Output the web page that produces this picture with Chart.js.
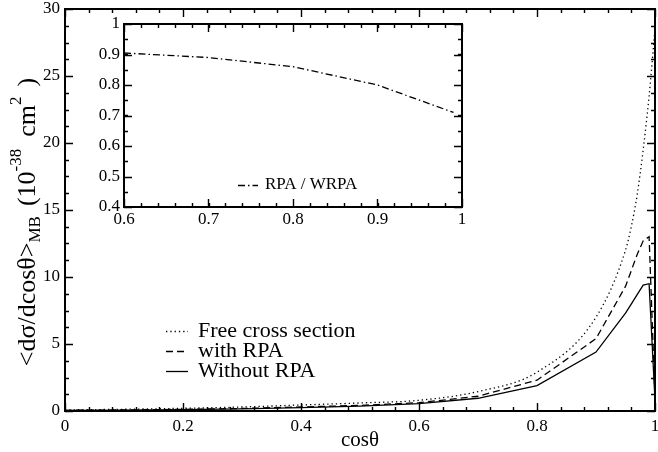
<!DOCTYPE html>
<html>
<head>
<meta charset="utf-8">
<script src="https://cdn.jsdelivr.net/npm/chart.js@4.4.1/dist/chart.umd.min.js"></script>
<style>
  html, body { margin: 0; padding: 0; background: #fff; }
  #wrap { position: relative; width: 658px; height: 452px; }
  #main { position: absolute; left: 0; top: 0; }
  #inset { position: absolute; left: 84px; top: 14px; }
</style>
</head>
<body>
<div id="wrap">
  <canvas id="main" width="658" height="452"></canvas>
  <canvas id="inset" width="390" height="230"></canvas>
</div>
<script>
// main panel: MiniBooNE-averaged angular distribution
const cosTheta   = [0, 0.1, 0.2, 0.3, 0.4, 0.5, 0.6, 0.7, 0.8, 0.9, 0.95, 0.96, 0.97, 0.98, 0.99, 1.0];
const freeXsec   = [0.08, 0.13, 0.2, 0.3, 0.45, 0.6, 0.8, 1.45, 2.9, 7.0, 12.0, 13.8, 16.2, 19.5, 23.5, 28.5];
const withRPA    = [0.05, 0.08, 0.12, 0.19, 0.3, 0.42, 0.62, 1.1, 2.3, 5.4, 9.3, 10.5, 11.7, 12.7, 13.0, 1.0];
const withoutRPA = [0.04, 0.07, 0.1, 0.16, 0.25, 0.37, 0.55, 0.95, 1.9, 4.4, 7.3, 8.0, 8.7, 9.4, 9.5, 0.8];
const mainLabels = ['Free cross section', 'with RPA', 'Without RPA'];

// inset: ratio RPA / WRPA
const ratioCos = [0.6, 0.7, 0.8, 0.9, 0.99];
const ratio    = [0.905, 0.89, 0.86, 0.80, 0.71];
const insetLabel = 'RPA / WRPA';

const FONT = '"Liberation Serif", "Times New Roman", serif';
var Chart = window.Chart;

function pts(xs, ys) {
  return xs.map(function (x, i) { return { x: x, y: ys[i] }; });
}

// "1" rather than "1.0", "0.2" etc.
function plainNum(v) {
  return String(+v.toFixed(2));
}

// keep the plot box where the layout padding puts it
function fixBox(size) {
  return function (s) {
    if (s.isHorizontal()) s.height = size; else s.width = size;
    s.paddingLeft = 0; s.paddingRight = 0; s.paddingTop = 0; s.paddingBottom = 0;
  };
}

// xmgrace-like box with inward ticks on all four sides
function boxTicks(cfg) {
  return {
    id: 'boxTicks',
    afterDraw(chart) {
      const ctx = chart.ctx, a = chart.chartArea;
      const xs = chart.scales.x, ys = chart.scales.y;
      ctx.save();
      ctx.strokeStyle = '#000';
      ctx.lineWidth = 1.4;
      ctx.beginPath();
      function xt(v, len) {
        const p = Math.round(xs.getPixelForValue(v)) + 0.5;
        ctx.moveTo(p, a.bottom); ctx.lineTo(p, a.bottom - len);
        ctx.moveTo(p, a.top); ctx.lineTo(p, a.top + len);
      }
      function yt(v, len) {
        const p = Math.round(ys.getPixelForValue(v)) + 0.5;
        ctx.moveTo(a.left, p); ctx.lineTo(a.left + len, p);
        ctx.moveTo(a.right, p); ctx.lineTo(a.right - len, p);
      }
      const e = 1e-9;
      for (let v = cfg.xMin; v <= cfg.xMax + e; v += cfg.xMinor) xt(v, cfg.minorLen);
      for (let v = cfg.xMin; v <= cfg.xMax + e; v += cfg.xMajor) xt(v, cfg.majorLen);
      for (let v = cfg.yMin; v <= cfg.yMax + e; v += cfg.yMinor) yt(v, cfg.minorLen);
      for (let v = cfg.yMin; v <= cfg.yMax + e; v += cfg.yMajor) yt(v, cfg.majorLen);
      ctx.stroke();
      ctx.lineWidth = 2;
      ctx.strokeRect(a.left, a.top, a.right - a.left, a.bottom - a.top);
      ctx.restore();
    }
  };
}

// axis titles and the hand-placed legend of the main panel
const mainDecor = {
  id: 'mainDecor',
  afterDraw(chart) {
    const ctx = chart.ctx;
    ctx.save();
    ctx.fillStyle = '#000';
    ctx.textBaseline = 'middle';

    // x title
    ctx.font = '21px ' + FONT;
    ctx.textAlign = 'center';
    ctx.fillText('cosθ', 360, 440);

    // y title with sub/superscripts: [text, size, shift, gap after]
    const parts = [
      ['<dσ/dcosθ>', 26, 0, 0], ['MB', 17, 8, 10], ['(10', 26, 0, 0], ['-38', 17, -11, 12],
      ['cm', 26, 0, 0], ['2', 17, -11, 10], [')', 26, 0, 0]
    ];
    let total = 0;
    parts.forEach(function (p) { ctx.font = p[1] + 'px ' + FONT; total += ctx.measureText(p[0]).width + p[3]; });
    ctx.translate(28, 222);
    ctx.rotate(-Math.PI / 2);
    ctx.textAlign = 'left';
    let x = -total / 2;
    parts.forEach(function (p) {
      ctx.font = p[1] + 'px ' + FONT;
      ctx.fillText(p[0], x, p[2]);
      x += ctx.measureText(p[0]).width + p[3];
    });
    ctx.setTransform(1, 0, 0, 1, 0, 0);

    // legend
    const ds = chart.data.datasets;
    ctx.font = '22px ' + FONT;
    ctx.textAlign = 'left';
    const rows = [331, 351, 371];
    ds.forEach(function (d, i) {
      const y = rows[i];
      ctx.beginPath();
      ctx.setLineDash(d.borderDash || []);
      ctx.lineWidth = d.borderWidth;
      ctx.strokeStyle = d.borderColor;
      ctx.moveTo(166, y + 0.5); ctx.lineTo(188, y + 0.5);
      ctx.stroke();
      ctx.setLineDash([]);
      ctx.fillText(d.label, 198, y);
    });
    ctx.restore();
  }
};

const insetDecor = {
  id: 'insetDecor',
  afterDraw(chart) {
    const ctx = chart.ctx;
    const d = chart.data.datasets[0];
    ctx.save();
    ctx.beginPath();
    ctx.setLineDash(d.borderDash);
    ctx.lineWidth = d.borderWidth;
    ctx.strokeStyle = d.borderColor;
    ctx.moveTo(154, 171.5); ctx.lineTo(174, 171.5);
    ctx.stroke();
    ctx.setLineDash([]);
    ctx.fillStyle = '#000';
    ctx.font = '17px ' + FONT;
    ctx.textBaseline = 'middle';
    ctx.fillText(d.label, 181, 171);
    ctx.restore();
  }
};

function lineSet(label, data, dash) {
  return {
    label: label,
    data: data,
    borderColor: '#000',
    borderWidth: 1.3,
    borderDash: dash,
    pointRadius: 0,
    fill: false,
    tension: 0
  };
}

const tickFont = { family: FONT, size: 17 };

// the free curve is a smooth rise, the RPA curves keep their kinks
const freeSet = lineSet(mainLabels[0], pts(cosTheta, freeXsec), [1.3, 3]);
freeSet.cubicInterpolationMode = 'monotone';

new Chart(document.getElementById('main'), {
  type: 'line',
  data: {
    datasets: [
      freeSet,
      lineSet(mainLabels[1], pts(cosTheta, withRPA), [7, 4]),
      lineSet(mainLabels[2], pts(cosTheta, withoutRPA), [])
    ]
  },
  options: {
    responsive: false,
    animation: false,
    layout: { padding: { left: 0, top: 9, right: 3, bottom: 0 } },
    plugins: { legend: { display: false }, tooltip: { enabled: false } },
    scales: {
      x: {
        type: 'linear', min: 0, max: 1,
        grid: { display: false, drawTicks: false }, border: { display: false },
        ticks: { stepSize: 0.2, color: '#000', font: tickFont, padding: 5, maxRotation: 0, autoSkip: false, callback: plainNum },
        afterFit: fixBox(41)
      },
      y: {
        type: 'linear', min: 0, max: 30,
        grid: { display: false, drawTicks: false }, border: { display: false },
        ticks: { stepSize: 5, color: '#000', font: tickFont, padding: 5, callback: plainNum },
        afterFit: fixBox(65)
      }
    }
  },
  plugins: [
    boxTicks({ xMin: 0, xMax: 1, xMajor: 0.2, xMinor: 0.04, yMin: 0, yMax: 30, yMajor: 5, yMinor: 1.25, majorLen: 8, minorLen: 4 }),
    mainDecor
  ]
});

new Chart(document.getElementById('inset'), {
  type: 'line',
  data: {
    datasets: [lineSet(insetLabel, pts(ratioCos, ratio), [7, 3, 1.5, 3])]
  },
  options: {
    responsive: false,
    animation: false,
    layout: { padding: { left: 0, top: 10, right: 12, bottom: 0 } },
    plugins: { legend: { display: false }, tooltip: { enabled: false } },
    scales: {
      x: {
        type: 'linear', min: 0.6, max: 1,
        grid: { display: false, drawTicks: false }, border: { display: false },
        ticks: { stepSize: 0.1, color: '#000', font: tickFont, padding: 2, maxRotation: 0, autoSkip: false, callback: plainNum },
        afterFit: fixBox(37)
      },
      y: {
        type: 'linear', min: 0.4, max: 1,
        grid: { display: false, drawTicks: false }, border: { display: false },
        ticks: { stepSize: 0.1, color: '#000', font: tickFont, padding: 4, callback: plainNum },
        afterFit: fixBox(40)
      }
    }
  },
  plugins: [
    boxTicks({ xMin: 0.6, xMax: 1, xMajor: 0.1, xMinor: 0.02, yMin: 0.4, yMax: 1, yMajor: 0.1, yMinor: 0.05, majorLen: 8, minorLen: 4 }),
    insetDecor
  ]
});
</script>
</body>
</html>
